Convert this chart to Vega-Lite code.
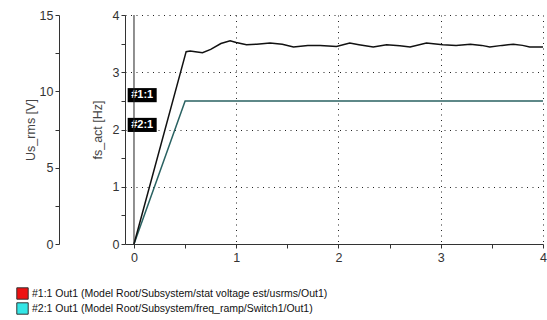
{
  "$schema": "https://vega.github.io/schema/vega-lite/v6.json",
  "width": 418,
  "height": 229,
  "autosize": {"type": "none"},
  "padding": {"left": 125, "top": 15, "right": 4, "bottom": 76},
  "background": "white",
  "config": {
    "view": {"stroke": null},
    "font": "Liberation Sans",
    "axis": {"labelFont": "Liberation Sans", "titleFont": "Liberation Sans", "labelFlush": false, "labelOverlap": false}
  },
  "datasets": {
    "voltage": [
      {"t": 0, "v": 0}, {"t": 0.51, "v": 12.6}, {"t": 0.55, "v": 12.64}, {"t": 0.6, "v": 12.6},
      {"t": 0.67, "v": 12.53}, {"t": 0.75, "v": 12.75}, {"t": 0.85, "v": 13.13}, {"t": 0.94, "v": 13.31},
      {"t": 1.0, "v": 13.2}, {"t": 1.1, "v": 13.05}, {"t": 1.2, "v": 13.09}, {"t": 1.33, "v": 13.16},
      {"t": 1.45, "v": 13.09}, {"t": 1.56, "v": 12.9}, {"t": 1.7, "v": 13.01}, {"t": 1.82, "v": 13.01},
      {"t": 1.98, "v": 12.94}, {"t": 2.11, "v": 13.16}, {"t": 2.2, "v": 13.05}, {"t": 2.34, "v": 12.9},
      {"t": 2.47, "v": 13.05}, {"t": 2.6, "v": 12.98}, {"t": 2.7, "v": 12.9}, {"t": 2.86, "v": 13.16},
      {"t": 3.02, "v": 13.05}, {"t": 3.15, "v": 13.01}, {"t": 3.29, "v": 13.09}, {"t": 3.4, "v": 13.01},
      {"t": 3.48, "v": 12.9}, {"t": 3.6, "v": 13.01}, {"t": 3.71, "v": 13.09}, {"t": 3.8, "v": 13.01},
      {"t": 3.87, "v": 12.9}, {"t": 4.0, "v": 12.9}
    ],
    "freq": [{"t": 0, "f": 0}, {"t": 0.5, "f": 2.5}, {"t": 4.0, "f": 2.5}],
    "markers": [{"label": "#1:1", "t": 0.08, "f": 2.6}, {"label": "#2:1", "t": 0.08, "f": 2.08}],
    "cursor": [{"t": 0}],
    "series": [
      {"series": "#1:1 Out1 (Model Root/Subsystem/stat voltage est/usrms/Out1)", "t": 0, "f": 0},
      {"series": "#2:1 Out1 (Model Root/Subsystem/freq_ramp/Switch1/Out1)", "t": 0, "f": 0}
    ]
  },
  "encoding": {
    "x": {
      "field": "t", "type": "quantitative",
      "scale": {"domain": [-0.088, 4], "nice": false, "zero": false},
      "axis": {
        "title": null,
        "values": [0, 0.5, 1, 1.5, 2, 2.5, 3, 3.5, 4],
        "labelExpr": "datum.value % 1 === 0 ? format(datum.value, 'd') : ''",
        "grid": true,
        "gridOpacity": {"condition": {"test": "datum.value % 1 === 0 && datum.value > 0", "value": 1}, "value": 0},
        "gridDash": [1, 4.5], "gridColor": "#222",
        "domainColor": "#333", "tickColor": "#333", "tickSize": 4,
        "labelFontSize": 12.5, "labelColor": "#333", "labelPadding": 3
      }
    }
  },
  "layer": [
    {
      "encoding": {
        "y": {
          "field": "f", "type": "quantitative",
          "scale": {"domain": [0, 4], "nice": false},
          "axis": {
            "title": "fs_act [Hz]",
            "values": [0, 0.5, 1, 1.5, 2, 2.5, 3, 3.5, 4],
            "labelExpr": "datum.value % 1 === 0 ? format(datum.value, 'd') : ''",
            "grid": true,
            "gridOpacity": {"condition": {"test": "datum.value % 1 === 0 && datum.value > 0", "value": 1}, "value": 0},
            "gridDash": [1, 4.5], "gridColor": "#222",
            "domainColor": "#333", "tickColor": "#333", "tickSize": 4,
            "labelFontSize": 12.5, "labelColor": "#333", "labelPadding": 2,
            "titleFontSize": 12.5, "titleFontWeight": "normal", "titleColor": "#444", "titlePadding": 8
          }
        }
      },
      "layer": [
        {
          "data": {"name": "freq"},
          "mark": {"type": "line", "color": "#2a6262", "strokeWidth": 1.5}
        },
        {
          "data": {"name": "markers"},
          "mark": {"type": "point", "shape": "M-1.4,-0.68H1.4V0.68H-1.4Z", "size": 430, "filled": true, "color": "black", "opacity": 1}
        },
        {
          "data": {"name": "markers"},
          "mark": {"type": "text", "color": "white", "fontSize": 11, "fontWeight": "bold", "font": "Liberation Sans", "baseline": "middle", "align": "center"},
          "encoding": {"text": {"field": "label"}}
        },
        {
          "data": {"name": "series"},
          "mark": {"type": "point", "filled": true, "opacity": 0},
          "encoding": {
            "fill": {
              "field": "series", "type": "nominal",
              "scale": {
                "domain": ["#1:1 Out1 (Model Root/Subsystem/stat voltage est/usrms/Out1)", "#2:1 Out1 (Model Root/Subsystem/freq_ramp/Switch1/Out1)"],
                "range": ["#ee1111", "#33e6e6"]
              },
              "legend": {
                "orient": "none", "legendX": -109, "legendY": 272,
                "title": null, "direction": "vertical",
                "symbolType": "square", "symbolSize": 130,
                "symbolStrokeColor": "#333", "symbolStrokeWidth": 1, "symbolOpacity": 1,
                "labelFontSize": 10.5, "labelFont": "Liberation Sans", "labelColor": "#111",
                "labelLimit": 600, "rowPadding": -8, "labelOffset": 3
              }
            }
          }
        }
      ]
    },
    {
      "data": {"name": "voltage"},
      "mark": {"type": "line", "color": "#111", "strokeWidth": 1.5},
      "encoding": {
        "y": {
          "field": "v", "type": "quantitative",
          "scale": {"domain": [0, 15], "nice": false},
          "axis": {
            "orient": "left", "offset": 66,
            "title": "Us_rms [V]",
            "values": [0, 2.5, 5, 7.5, 10, 12.5, 15],
            "labelExpr": "datum.value % 5 === 0 ? format(datum.value, 'd') : ''",
            "grid": false,
            "domainColor": "#333", "tickColor": "#333", "tickSize": 4,
            "labelFontSize": 12.5, "labelColor": "#333", "labelPadding": 2,
            "titleFontSize": 12.5, "titleFontWeight": "normal", "titleColor": "#444", "titlePadding": 2
          }
        }
      }
    },
    {
      "data": {"name": "cursor"},
      "mark": {"type": "rule", "color": "#222", "strokeWidth": 1}
    }
  ],
  "resolve": {"scale": {"y": "independent"}}
}
